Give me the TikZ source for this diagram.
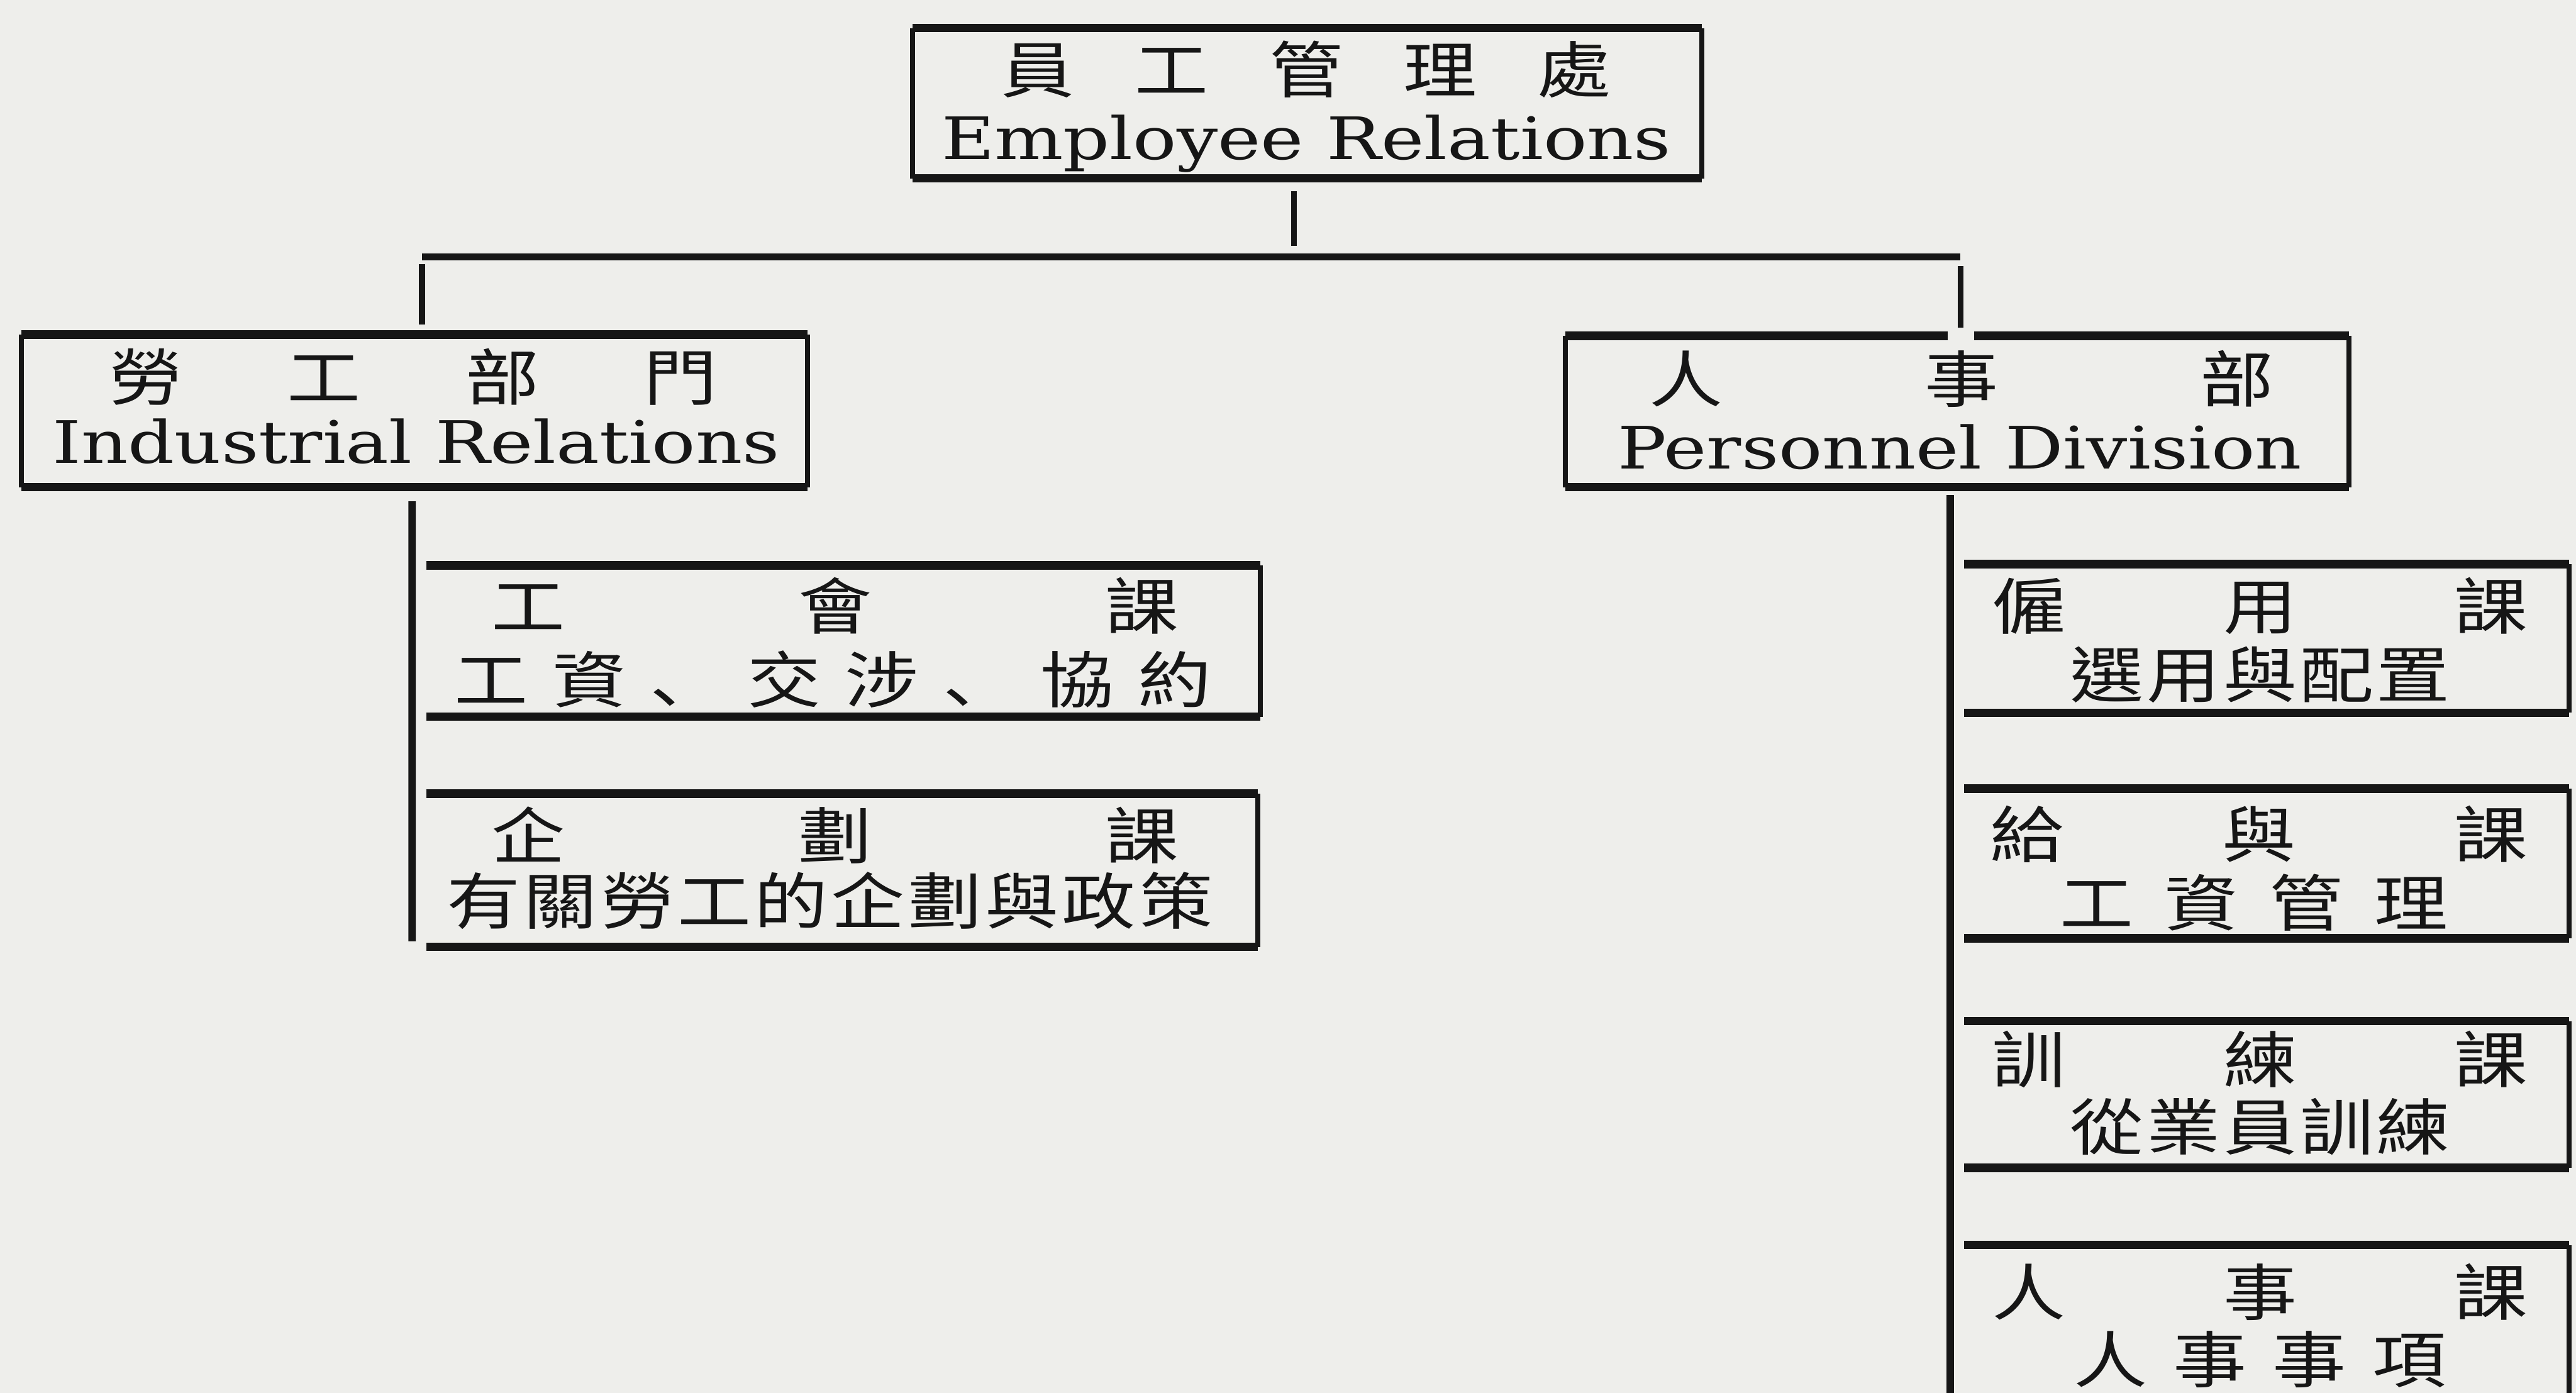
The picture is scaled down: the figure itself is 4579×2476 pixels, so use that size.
\documentclass[tikz,border=0pt]{standalone}
\usepackage{fontspec}
\newfontfamily\latf[FakeStretch=1.24]{DejaVu Serif}
\newfontfamily\cjkf[FakeStretch=1.2]{Noto Sans CJK TC}
\newfontfamily\cjkjp[FakeStretch=1.2]{Noto Sans CJK JP}
\definecolor{paper}{RGB}{238,238,235}
\definecolor{ink}{RGB}{22,22,22}
\newcommand\fullframe[1]{%
  \draw[hline] (#1.north west) -- (#1.north east) (#1.south west) -- (#1.south east);
  \draw[vline] (#1.north west) -- (#1.south west) (#1.north east) -- (#1.south east);}
\newcommand\subframe[1]{%
  \draw[hline, shorten <=0.25cm] (#1.north west) -- (#1.north east);
  \draw[hline, shorten <=0.25cm] (#1.south west) -- (#1.south east);
  \draw[vline] (#1.north east) -- (#1.south east);}
\newcommand\sprd[2]{\makebox[#1][s]{#2}}
\tikzset{
  boxn/.style={inner sep=0pt, outer sep=0pt, draw=none},
  hline/.style={draw=ink, line width=0.15cm},
  vline/.style={draw=ink, line width=0.09cm},
  conn/.style={draw=ink, line width=0.11cm},
  cjk/.style={font={\cjkf\fontsize{31}{36}\selectfont}, text=ink, inner sep=0pt, anchor=base},
  lat/.style={font={\latf\fontsize{29.6}{36}\selectfont}, text=ink, inner sep=0pt, anchor=base},
}
\begin{document}
\begin{tikzpicture}[x=0.01cm, y=-0.01cm]
\fill[paper] (0,0) rectangle (4579,2476);
\useasboundingbox (0,0) rectangle (4579,2476);

% box nodes
\node[boxn, minimum width=14.02cm, minimum height=2.67cm] (er) at (2324,183.5) {};
\node[boxn, minimum width=13.97cm, minimum height=2.71cm] (ir) at (736.5,730.5) {};
\node[boxn, minimum width=13.92cm, minimum height=2.69cm] (pd) at (3479,731.5) {};
\node[boxn, minimum width=15.07cm, minimum height=2.69cm] (gh) at (1486.5,1139.5) {};
\node[boxn, minimum width=15.02cm, minimum height=2.72cm] (qh) at (1484,1547) {};
\node[boxn, minimum width=10.99cm, minimum height=2.64cm] (hire) at (4016.5,1135) {};
\node[boxn, minimum width=10.99cm, minimum height=2.66cm] (pay) at (4016.5,1535) {};
\node[boxn, minimum width=10.99cm, minimum height=2.61cm] (train) at (4016.5,1945.5) {};
\node[boxn, minimum width=10.99cm, minimum height=2.77cm] (pers) at (4016.5,2351.5) {};

% frames
\fullframe{er}
\fullframe{ir}
\draw[hline] (pd.north west) -- ++(680,0);
\draw[hline] (pd.north east) -- ++(-666,0);
\draw[hline] (pd.south west) -- (pd.south east);
\draw[vline] (pd.north west) -- (pd.south west) (pd.north east) -- (pd.south east);
\subframe{gh}
\subframe{qh}
\subframe{hire}
\subframe{pay}
\subframe{train}
\subframe{pers}

% connectors
\coordinate (busmid) at (2300,457);
\coordinate (busL) at (750,457);
\coordinate (busR) at (3485,457);
\draw[conn, shorten <=0.23cm, shorten >=0.2cm] (er.south -| busmid) -- (busmid);
\draw[hline, line width=0.12cm] (busL) -- (busR);
\draw[conn, shorten <=0.13cm, shorten >=0.18cm] (busL) -- (busL |- ir.north);
\draw[conn, shorten <=0.16cm, shorten >=0.15cm] (busR) -- (busR |- pd.north);
\draw[conn, line width=0.13cm, shorten <=0.25cm, shorten >=0.1cm] (ir.south -| gh.west) -- (qh.south west);
\draw[conn, line width=0.13cm, shorten <=0.14cm] (pd.south -| hire.west) -- (pers.south west);

% texts
\node[cjk] (er1) at (2321.5,165) {\sprd{10.84cm}{員\hfill 工\hfill 管\hfill 理\hfill 處}};
\node[lat] (er2) at (2322,283) {Employee Relations};
\node[cjk] (ir1) at (734.5,712) {\sprd{10.80cm}{勞\hfill 工\hfill 部\hfill 門}};
\node[lat] (ir2) at (740,823) {Industrial Relations};
\node[cjk] (pd1) at (3487,715) {\sprd{11.09cm}{人\hfill 事\hfill 部}};
\node[lat] (pd2) at (3484,833) {Personnel Division};

\node[cjk] (gh1) at (1485,1119) {\sprd{12.21cm}{工\hfill 會\hfill 課}};
\node[cjk] (gh2) at (1481,1249) {\sprd{13.45cm}{工\hfill 資\hfill {\cjkjp 、}\hfill 交\hfill 涉\hfill {\cjkjp 、}\hfill 協\hfill 約}};
\node[cjk] (qh1) at (1485,1527) {\sprd{12.21cm}{企\hfill 劃\hfill 課}};
\node[cjk] (qh2) at (1475,1643) {\sprd{13.60cm}{有\hfill 關\hfill 勞\hfill 工\hfill 的\hfill 企\hfill 劃\hfill 與\hfill 政\hfill 策}};

\node[cjk] (hire1) at (4017.5,1118) {\sprd{9.52cm}{僱\hfill 用\hfill 課}};
\node[cjk] (hire2) at (4017.5,1240) {\sprd{6.75cm}{選\hfill 用\hfill 與\hfill 配\hfill 置}};
\node[cjk] (pay1) at (4015.5,1524) {\sprd{9.56cm}{給\hfill 與\hfill 課}};
\node[cjk] (pay2) at (4006.5,1646) {\sprd{6.90cm}{工\hfill 資\hfill 管\hfill 理}};
\node[cjk] (train1) at (4017.5,1925) {\sprd{9.52cm}{訓\hfill 練\hfill 課}};
\node[cjk] (train2) at (4017.5,2044) {\sprd{6.75cm}{從\hfill 業\hfill 員\hfill 訓\hfill 練}};
\node[cjk] (pers1) at (4017.5,2338) {\sprd{9.52cm}{人\hfill 事\hfill 課}};
\node[cjk] (pers2) at (4017,2458) {\sprd{6.61cm}{人\hfill 事\hfill 事\hfill 項}};
\end{tikzpicture}
\end{document}
